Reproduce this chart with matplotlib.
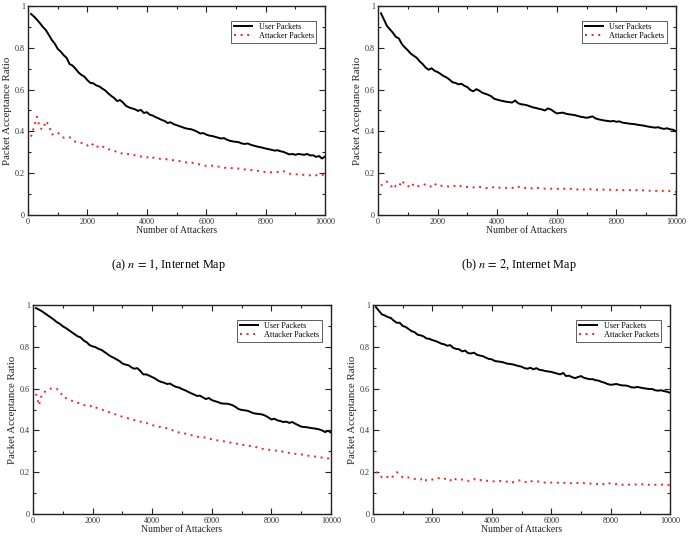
import numpy as np
import matplotlib
matplotlib.use("Agg")
import matplotlib.pyplot as plt
from matplotlib.ticker import MultipleLocator

plt.rcParams['font.family'] = ['Liberation Serif', 'DejaVu Serif']
plt.rcParams['mathtext.fontset'] = 'stix'

x_vals = list(range(100, 10001, 100))

user_a = [0.962, 0.950, 0.935, 0.918, 0.900, 0.885, 0.862, 0.838, 0.820, 0.795,
          0.782, 0.765, 0.752, 0.722, 0.715, 0.700, 0.682, 0.670, 0.662, 0.645,
          0.632, 0.630, 0.620, 0.615, 0.605, 0.596, 0.582, 0.570, 0.560, 0.545,
          0.550, 0.538, 0.522, 0.515, 0.510, 0.506, 0.498, 0.503, 0.488, 0.492,
          0.480, 0.476, 0.468, 0.462, 0.455, 0.450, 0.440, 0.444, 0.435, 0.430,
          0.425, 0.420, 0.415, 0.412, 0.410, 0.405, 0.398, 0.390, 0.392, 0.385,
          0.380, 0.378, 0.374, 0.370, 0.366, 0.368, 0.360, 0.355, 0.352, 0.350,
          0.348, 0.342, 0.340, 0.342, 0.336, 0.332, 0.328, 0.325, 0.322, 0.318,
          0.315, 0.312, 0.308, 0.310, 0.305, 0.302, 0.296, 0.290, 0.292, 0.288,
          0.292, 0.290, 0.288, 0.292, 0.285, 0.286, 0.278, 0.282, 0.270, 0.280]
att_a = [0.375, 0.420, 0.470, 0.415, 0.410, 0.450, 0.430, 0.385, 0.390, 0.395,
         0.380, 0.370, 0.368, 0.372, 0.362, 0.350, 0.348, 0.345, 0.340, 0.332,
         0.345, 0.335, 0.322, 0.334, 0.330, 0.318, 0.315, 0.312, 0.308, 0.300,
         0.298, 0.292, 0.290, 0.292, 0.290, 0.286, 0.282, 0.280, 0.276, 0.275,
         0.282, 0.275, 0.272, 0.270, 0.268, 0.268, 0.266, 0.264, 0.262, 0.260,
         0.258, 0.255, 0.252, 0.250, 0.250, 0.248, 0.245, 0.242, 0.238, 0.235,
         0.236, 0.236, 0.234, 0.232, 0.228, 0.226, 0.225, 0.225, 0.224, 0.224,
         0.222, 0.220, 0.218, 0.216, 0.215, 0.216, 0.212, 0.210, 0.208, 0.205,
         0.205, 0.204, 0.205, 0.206, 0.205, 0.210, 0.202, 0.198, 0.195, 0.195,
         0.194, 0.193, 0.192, 0.190, 0.190, 0.188, 0.190, 0.192, 0.194, 0.180]

user_b = [0.965, 0.935, 0.905, 0.888, 0.872, 0.852, 0.845, 0.818, 0.802, 0.788,
          0.772, 0.762, 0.752, 0.735, 0.722, 0.705, 0.695, 0.702, 0.690, 0.684,
          0.675, 0.665, 0.658, 0.648, 0.635, 0.632, 0.625, 0.628, 0.618, 0.612,
          0.598, 0.592, 0.602, 0.595, 0.585, 0.580, 0.575, 0.568, 0.556, 0.552,
          0.548, 0.545, 0.542, 0.540, 0.538, 0.548, 0.535, 0.530, 0.528, 0.525,
          0.520, 0.515, 0.512, 0.508, 0.505, 0.500, 0.510, 0.505, 0.495, 0.486,
          0.488, 0.490, 0.485, 0.482, 0.480, 0.478, 0.474, 0.470, 0.468, 0.465,
          0.468, 0.472, 0.462, 0.458, 0.455, 0.452, 0.450, 0.448, 0.450, 0.446,
          0.448, 0.442, 0.440, 0.438, 0.436, 0.435, 0.432, 0.430, 0.428, 0.425,
          0.422, 0.420, 0.418, 0.420, 0.415, 0.412, 0.415, 0.410, 0.408, 0.400]
att_b = [0.140, 0.155, 0.160, 0.150, 0.125, 0.140, 0.135, 0.165, 0.145, 0.140,
         0.130, 0.150, 0.140, 0.138, 0.142, 0.148, 0.140, 0.135, 0.150, 0.138,
         0.140, 0.140, 0.138, 0.135, 0.138, 0.140, 0.145, 0.136, 0.135, 0.134,
         0.133, 0.132, 0.130, 0.134, 0.132, 0.130, 0.128, 0.132, 0.133, 0.135,
         0.130, 0.128, 0.130, 0.132, 0.130, 0.128, 0.135, 0.130, 0.128, 0.132,
         0.130, 0.125, 0.128, 0.130, 0.128, 0.126, 0.125, 0.126, 0.124, 0.125,
         0.125, 0.128, 0.124, 0.126, 0.125, 0.124, 0.122, 0.125, 0.122, 0.122,
         0.123, 0.124, 0.122, 0.120, 0.122, 0.121, 0.120, 0.121, 0.120, 0.120,
         0.121, 0.119, 0.118, 0.120, 0.118, 0.118, 0.119, 0.117, 0.118, 0.116,
         0.116, 0.117, 0.115, 0.116, 0.115, 0.116, 0.117, 0.114, 0.113, 0.110]

user_c = [0.985, 0.978, 0.970, 0.960, 0.950, 0.940, 0.930, 0.918, 0.910, 0.898,
          0.890, 0.880, 0.870, 0.860, 0.850, 0.845, 0.830, 0.822, 0.808, 0.802,
          0.798, 0.790, 0.785, 0.775, 0.765, 0.755, 0.748, 0.740, 0.732, 0.720,
          0.715, 0.712, 0.702, 0.695, 0.698, 0.685, 0.668, 0.668, 0.662, 0.655,
          0.648, 0.638, 0.632, 0.628, 0.622, 0.624, 0.615, 0.608, 0.605, 0.598,
          0.592, 0.585, 0.578, 0.572, 0.565, 0.566, 0.558, 0.550, 0.555, 0.545,
          0.540, 0.536, 0.530, 0.528, 0.528, 0.525, 0.520, 0.512, 0.502, 0.498,
          0.496, 0.494, 0.488, 0.482, 0.480, 0.478, 0.476, 0.470, 0.462, 0.452,
          0.456, 0.448, 0.445, 0.440, 0.442, 0.436, 0.440, 0.432, 0.425, 0.418,
          0.416, 0.415, 0.412, 0.410, 0.408, 0.405, 0.400, 0.392, 0.398, 0.390]
att_c = [0.575, 0.520, 0.575, 0.585, 0.595, 0.600, 0.598, 0.598, 0.590, 0.560,
         0.555, 0.548, 0.542, 0.535, 0.532, 0.528, 0.522, 0.518, 0.515, 0.520,
         0.510, 0.505, 0.500, 0.495, 0.490, 0.485, 0.480, 0.475, 0.470, 0.465,
         0.462, 0.458, 0.455, 0.450, 0.446, 0.442, 0.440, 0.436, 0.430, 0.425,
         0.422, 0.418, 0.416, 0.414, 0.410, 0.405, 0.400, 0.395, 0.390, 0.388,
         0.385, 0.382, 0.378, 0.372, 0.370, 0.368, 0.368, 0.365, 0.360, 0.358,
         0.355, 0.352, 0.350, 0.348, 0.345, 0.342, 0.340, 0.338, 0.334, 0.330,
         0.330, 0.328, 0.325, 0.322, 0.320, 0.316, 0.312, 0.310, 0.308, 0.305,
         0.305, 0.302, 0.300, 0.298, 0.296, 0.292, 0.290, 0.288, 0.286, 0.285,
         0.282, 0.280, 0.278, 0.276, 0.274, 0.272, 0.270, 0.268, 0.266, 0.265]

user_d = [0.990, 0.972, 0.955, 0.950, 0.942, 0.938, 0.925, 0.915, 0.915, 0.900,
          0.895, 0.885, 0.875, 0.870, 0.858, 0.855, 0.850, 0.840, 0.838, 0.832,
          0.828, 0.822, 0.815, 0.812, 0.805, 0.808, 0.795, 0.790, 0.788, 0.778,
          0.782, 0.770, 0.768, 0.772, 0.762, 0.758, 0.755, 0.748, 0.742, 0.740,
          0.732, 0.730, 0.728, 0.725, 0.720, 0.718, 0.716, 0.712, 0.708, 0.705,
          0.698, 0.695, 0.700, 0.692, 0.698, 0.690, 0.688, 0.684, 0.682, 0.680,
          0.676, 0.672, 0.668, 0.675, 0.660, 0.662, 0.655, 0.650, 0.655, 0.660,
          0.652, 0.648, 0.645, 0.645, 0.640, 0.638, 0.632, 0.628, 0.622, 0.618,
          0.620, 0.622, 0.618, 0.615, 0.615, 0.612, 0.606, 0.605, 0.608, 0.605,
          0.602, 0.600, 0.598, 0.598, 0.592, 0.590, 0.592, 0.588, 0.585, 0.580]
att_d = [0.200, 0.195, 0.175, 0.170, 0.178, 0.170, 0.185, 0.200, 0.188, 0.175,
         0.172, 0.175, 0.170, 0.168, 0.170, 0.165, 0.175, 0.160, 0.162, 0.165,
         0.168, 0.172, 0.165, 0.168, 0.170, 0.160, 0.175, 0.165, 0.162, 0.165,
         0.160, 0.158, 0.165, 0.168, 0.160, 0.162, 0.165, 0.160, 0.158, 0.158,
         0.155, 0.155, 0.158, 0.156, 0.155, 0.158, 0.152, 0.155, 0.160, 0.162,
         0.155, 0.150, 0.158, 0.155, 0.156, 0.155, 0.152, 0.150, 0.152, 0.150,
         0.152, 0.150, 0.148, 0.150, 0.148, 0.146, 0.148, 0.150, 0.148, 0.145,
         0.148, 0.146, 0.145, 0.147, 0.144, 0.142, 0.145, 0.142, 0.150, 0.145,
         0.145, 0.143, 0.142, 0.140, 0.142, 0.140, 0.142, 0.140, 0.143, 0.142,
         0.142, 0.141, 0.140, 0.138, 0.140, 0.139, 0.140, 0.141, 0.138, 0.140]

captions = ["(a) $n\\,=\\,1$, Internet Map", "(b) $n\\,=\\,2$, Internet Map"]
series_labels = ["User Packets", "Attacker Packets"]
x_label = "Number of Attackers"
y_label = "Packet Acceptance Ratio"

W, H = 691, 558
fig = plt.figure(figsize=(W / 100, H / 100), dpi=100)

# axes rectangles in pixels: left, top, right, bottom
rects = [(28, 6, 325, 215), (378, 6, 676, 215), (33, 305, 331, 514), (373, 305, 670, 514)]
data = [(user_a, att_a), (user_b, att_b), (user_c, att_c), (user_d, att_d)]

spine_col = '#222222'
for (l, t, r, b), (u, a) in zip(rects, data):
    ax = fig.add_axes([l / W, 1 - b / H, (r - l) / W, (b - t) / H])
    ax.plot(x_vals, u, color='black', lw=1.4, label=series_labels[0])
    ax.plot(x_vals, a, color='#e8282a', lw=1.4, linestyle=(0, (1, 2.4)),
            label=series_labels[1])
    ax.set_xlim(0, 10000)
    ax.set_ylim(0, 1)
    ax.xaxis.set_major_locator(MultipleLocator(2000))
    ax.xaxis.set_minor_locator(MultipleLocator(1000))
    ax.yaxis.set_major_locator(MultipleLocator(0.2))
    ax.yaxis.set_minor_locator(MultipleLocator(0.1))
    ax.set_yticks([0, 0.2, 0.4, 0.6, 0.8, 1.0])
    ax.set_yticklabels(['0', '0.2', '0.4', '0.6', '0.8', '1'])
    ax.tick_params(which='both', direction='in', top=True, right=True,
                   labelsize=5.9, colors=spine_col, labelcolor='#333333', pad=2)
    ax.tick_params(which='major', length=4, width=0.8)
    ax.tick_params(which='minor', length=2.5, width=0.8)
    for s in ax.spines.values():
        s.set_color(spine_col)
        s.set_linewidth(1.0)
    ax.set_xlabel(x_label, fontsize=6.9, color='#222222', labelpad=0.5)
    ax.set_ylabel(y_label, fontsize=7.8, color='#222222', labelpad=2.5)
    leg = ax.legend(loc='upper right', bbox_to_anchor=(0.97, 0.93), fontsize=5.9,
                    frameon=True, fancybox=False, edgecolor='#333333',
                    handlelength=2.2, borderpad=0.3, labelspacing=0.15,
                    handletextpad=0.8, borderaxespad=0)
    leg.get_frame().set_linewidth(0.7)

fig.text(169 / W, 1 - 265 / H, captions[0], ha='center', va='center', fontsize=8.8)
fig.text(519 / W, 1 - 265 / H, captions[1], ha='center', va='center', fontsize=8.8)

fig.savefig("out.png", dpi=100)
